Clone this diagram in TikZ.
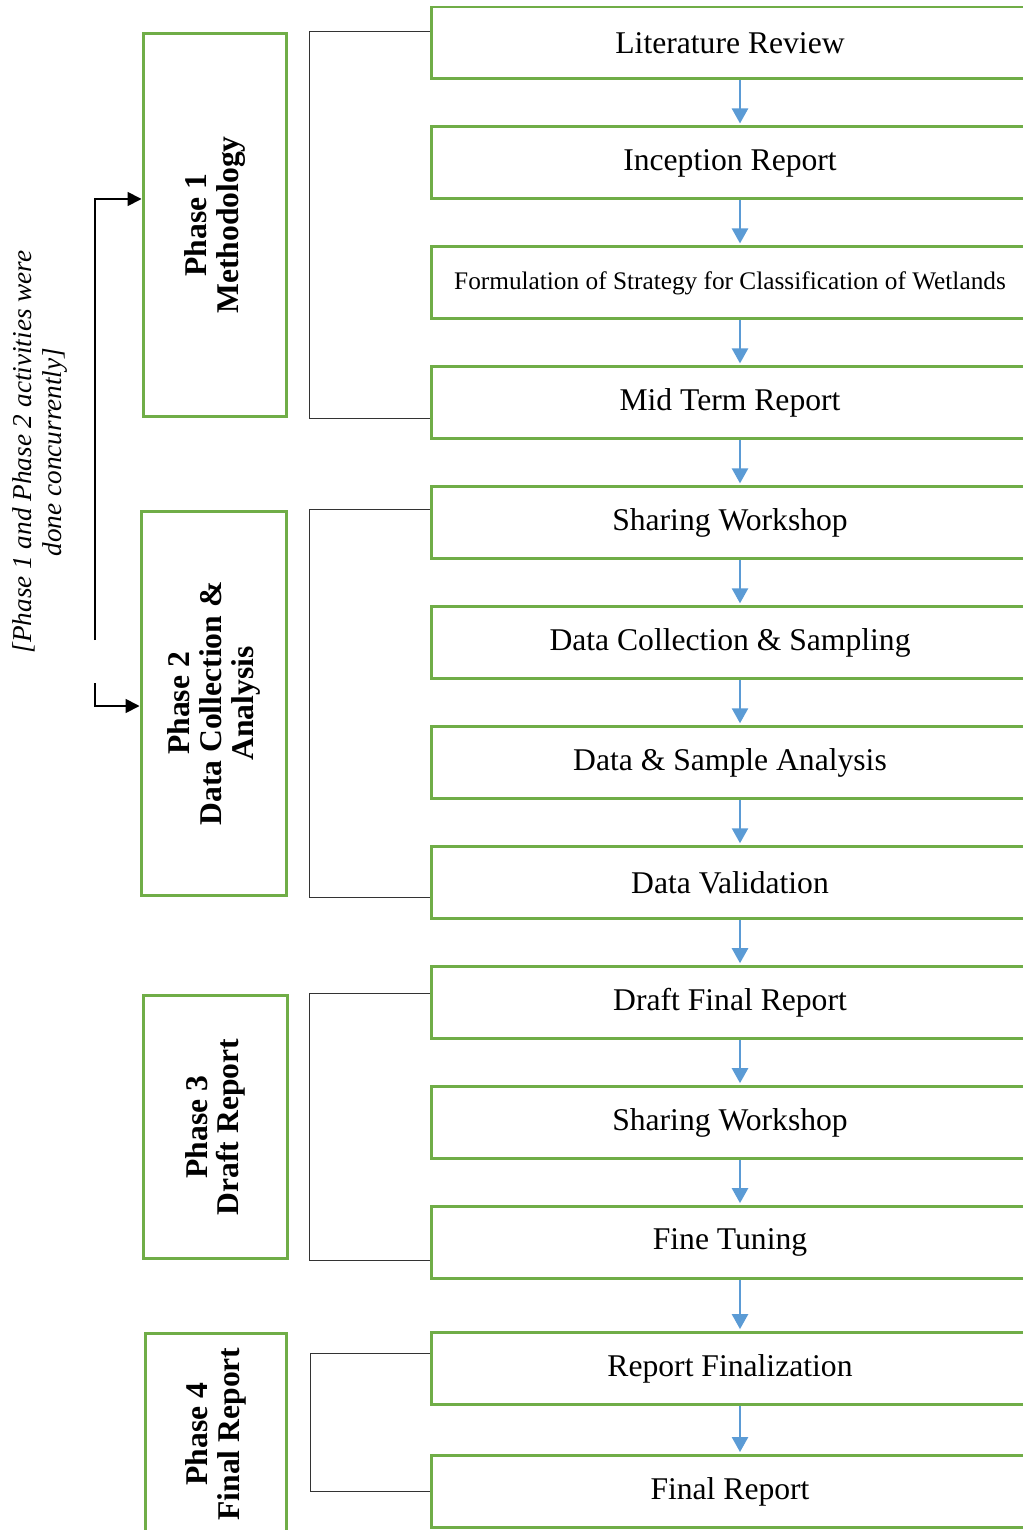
\documentclass[tikz,border=0pt]{standalone}
\usepackage{fontspec}
\setmainfont{Liberation Serif}
\usetikzlibrary{positioning,arrows.meta}
\definecolor{boxgreen}{HTML}{70AD47}
\definecolor{flowblue}{HTML}{5B9BD5}
\tikzset{
task/.style = {draw=boxgreen, line width=1.7pt, rectangle, minimum width=11.96cm, minimum height=1.44cm, inner sep=0pt, font=\fontsize{18}{18}\selectfont},
phase/.style = {draw=boxgreen, line width=1.7pt, rectangle, rotate=90, align=center, inner sep=0pt, font=\fontsize{18}{18}\selectfont\bfseries},
flow/.style = {draw=flowblue, line width=1.4pt, -{Triangle[length=0.30cm,width=0.32cm]}},
bracket/.style = {draw=black!80, line width=0.8pt},
note/.style = {rotate=90, align=center, font=\fontsize{15.5}{17}\selectfont\itshape},
link/.style = {draw=black, line width=1pt, -{Triangle[length=0.28cm,width=0.28cm]}}
}
\begin{document}
\begin{tikzpicture}[x=0.02cm, y=-0.02cm, node distance=0.9cm]
    \useasboundingbox (0,0) rectangle (1023,1530);
    % We start by placing the activity boxes
    \node [task] at (730,43) (lit) {Literature Review};
    \node [task, below=of lit] (inc) {Inception Report};
    \node [task, below=of inc, font=\fontsize{14.4}{15}\selectfont] (form) {Formulation of Strategy for Classification of Wetlands};
    \node [task, below=of form] (mid) {Mid Term Report};
    \node [task, below=of mid] (share1) {Sharing Workshop};
    \node [task, below=of share1] (coll) {Data Collection \& Sampling};
    \node [task, below=of coll] (anal) {Data \& Sample Analysis};
    \node [task, below=of anal] (valid) {Data Validation};
    \node [task, below=of valid] (draft) {Draft Final Report};
    \node [task, below=of draft] (share2) {Sharing Workshop};
    \node [task, below=of share2] (tune) {Fine Tuning};
    \node [task, below=1.02cm of tune] (rfin) {Report Finalization};
    \node [task, below=0.96cm of rfin] (final) {Final Report};

    % the phases on the left
    \node [phase, minimum width=7.68cm, minimum height=2.88cm] at (215,225) (p1) {Phase 1\\Methodology};
    \node [phase, minimum width=7.70cm, minimum height=2.92cm] at (214,703.5) (p2) {Phase 2\\Data Collection \&\\Analysis};
    \node [phase, minimum width=5.28cm, minimum height=2.90cm] at (215.5,1127) (p3) {Phase 3\\Draft Report};
    \node [phase, minimum width=4.04cm, minimum height=2.84cm] at (216,1434) (p4) {Phase 4\\Final Report};

    \node [note] at (40,452) (remark) {[Phase 1 and Phase 2 activities were\\done concurrently]};
    \coordinate (t1) at (95,199);
    \coordinate (t2) at (95,640);
    \coordinate (t3) at (95,683);
    \coordinate (t4) at (95,706);

    % Once the nodes are placed, connecting them is easy.
    \foreach \a/\b in {lit/inc, inc/form, form/mid, mid/share1, share1/coll, coll/anal,
        anal/valid, valid/draft, draft/share2, share2/tune, tune/rfin, rfin/final}
        \draw [flow] ([xshift=0.2cm]\a.south) -- ([xshift=0.2cm,yshift=0.04cm]\b.north);

    \draw [bracket] (lit.west |- p1.east) -- ++(-120,0) |- (mid.west |- p1.west);
    \draw [bracket] (share1.west |- p2.east) -- ++(-120,0) |- (valid.west |- p2.west);
    \draw [bracket] (draft.west |- p3.east) -- ++(-120,0) |- (tune.west |- p3.west);
    \draw [bracket] ([yshift=0.3cm]rfin.west) -- ++(-119,0) |- (final.west);

    \draw [link] (t2) -- (t1) -- (t1 -| p1.north);
    \draw [link] (t3) -- (t4) -- (t4 -| p2.north);
\end{tikzpicture}
\end{document}
